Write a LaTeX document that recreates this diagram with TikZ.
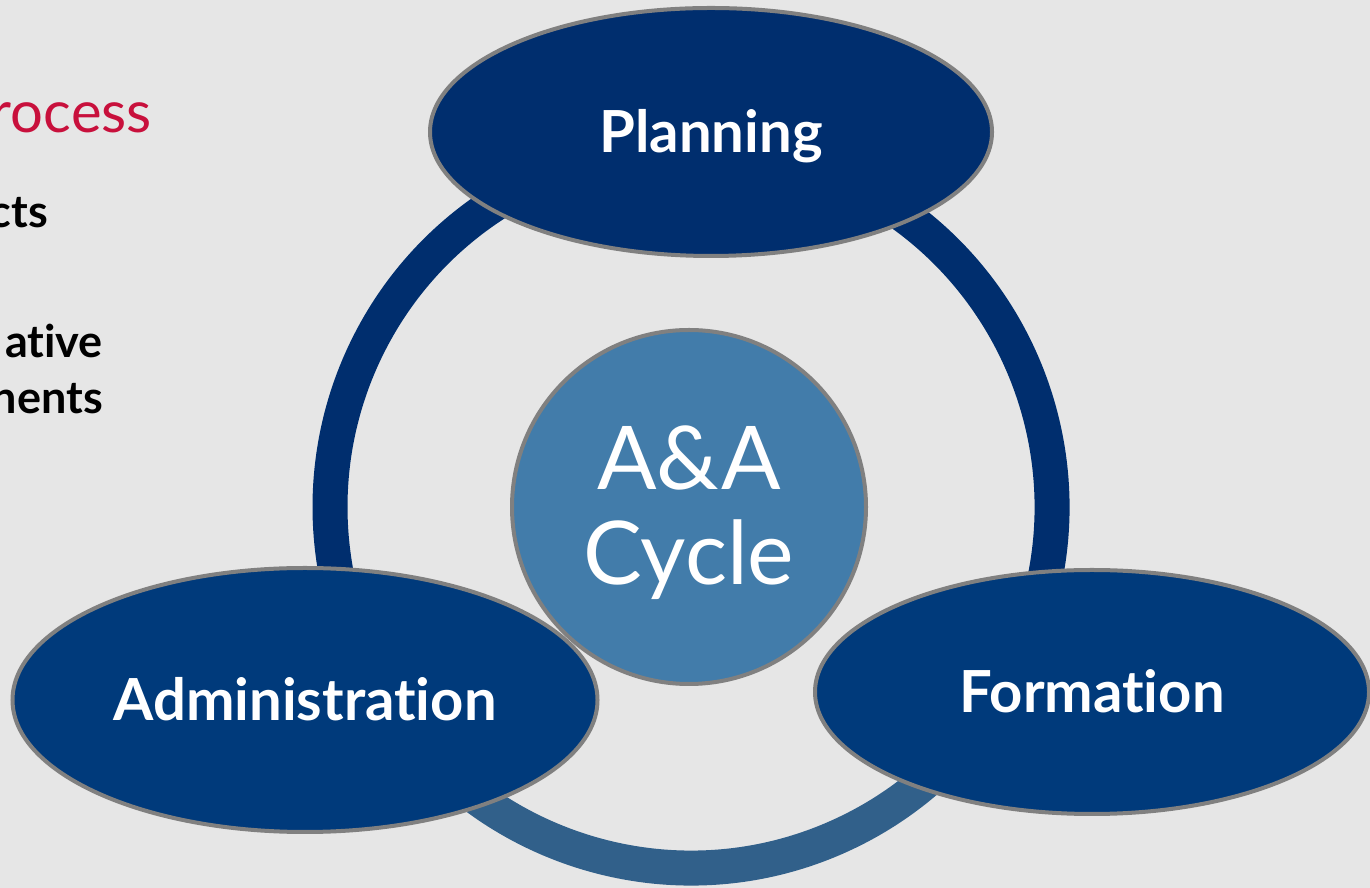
\documentclass[tikz,border=0pt]{standalone}
\usepackage{fontspec}
\setmainfont{Lato}[Ligatures=NoCommon]
\usetikzlibrary{shapes.geometric}
\definecolor{bgray}{RGB}{230,230,230}
\definecolor{edgegray}{RGB}{128,128,128}
\definecolor{navy}{RGB}{0,46,110}
\definecolor{navytwo}{RGB}{0,58,123}
\definecolor{steel}{RGB}{49,96,138}
\definecolor{midblue}{RGB}{66,124,170}
\definecolor{crimson}{RGB}{200,16,60}

\begin{document}
\begin{tikzpicture}[x=1pt,y=1pt,
   phase/.style={ellipse,draw=edgegray,line width=4pt,inner sep=0pt,text=white,
     text height=42pt,text depth=0pt,font=\fontsize{58}{60}\selectfont\bfseries},
   side/.style={anchor=base east,inner sep=0pt,font=\fontsize{45}{50}\selectfont\bfseries}]
   \fill[bgray] (0,0) rectangle (1370,888);
   \useasboundingbox (0,0) rectangle (1370,888);
   \node (proc) at (152,755) [side,text=crimson,font=\fontsize{58}{70}\selectfont] {rocess};
   \node (facts) at (48,660) [side] {cts};
   \node (rel) at (103,530) [side] {ative};
   \node (elem) at (103,474) [side] {nents};
   \coordinate (ring) at (691,381);
   \draw[navy,line width=35pt] (ring) ++(335:361) arc[start angle=335,end angle=566,radius=361];
   \draw[steel,line width=35pt] (ring) ++(206:361) arc[start angle=206,end angle=335,radius=361];
   \node (cycle) at (689,381) [circle,draw=edgegray,line width=4pt,fill=midblue,minimum size=354pt,
     inner sep=0pt] {};
   \node (cyclename) at ([yshift=-6pt]cycle.center) [text=white,align=center,
     font=\fontsize{88}{95}\selectfont] {A\&A\\Cycle};
   \node (plan) at (711,756) [phase,fill=navy,minimum width=562pt,minimum height=248pt] {Planning};
   \node (admin) at (305,188) [phase,fill=navytwo,minimum width=585pt,minimum height=264pt] {Administration};
   \node (form) at (1092,196) [phase,fill=navytwo,minimum width=554pt,minimum height=244pt] {Formation};
\end{tikzpicture}
\end{document}
